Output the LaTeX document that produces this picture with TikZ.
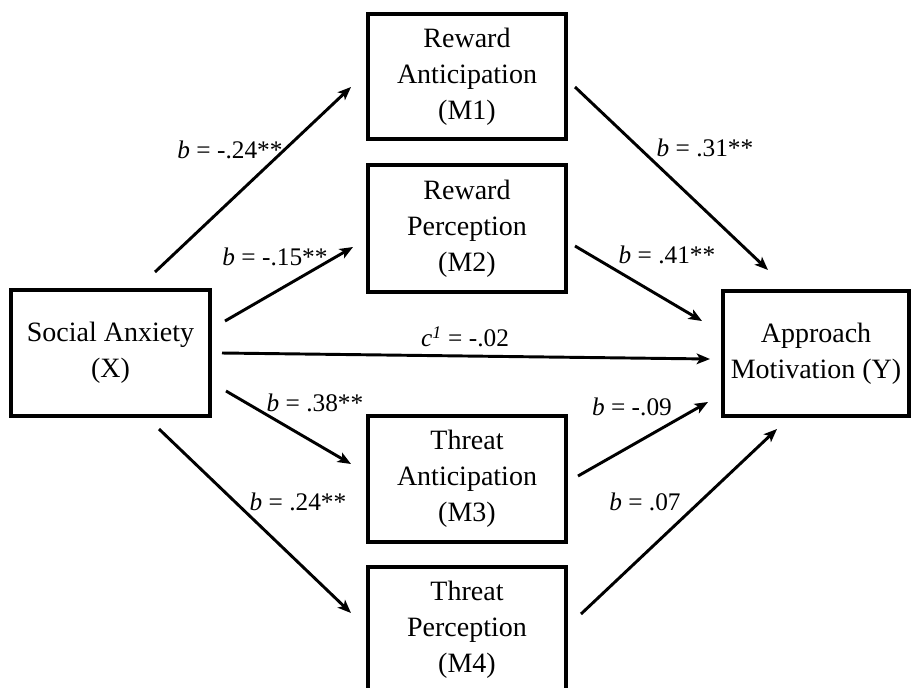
\documentclass[tikz,border=0pt]{standalone}
\usepackage{fontspec}
\setmainfont{Liberation Serif}
\usetikzlibrary{arrows.meta}
\begin{document}
\begin{tikzpicture}[x=0.75pt,y=-0.75pt,
  box/.style={draw,line width=2.4pt,rectangle,minimum width=198*0.75pt,minimum height=125*0.75pt,align=center,inner sep=0pt,font=\fontsize{21}{27}\selectfont},
  conn/.style={line width=2.2pt,-{Stealth[length=10pt,width=8pt,inset=2.5pt]}},
  lab/.style={font=\fontsize{19}{23}\selectfont,inner sep=0pt}]
\useasboundingbox (0,0) rectangle (911,687);
\node[box,minimum width=199*0.75pt,minimum height=126*0.75pt] (X) at (110.5,353) {Social Anxiety\\(X)};
\node[box] (M1) at (467,76.5) {Reward\\Anticipation\\(M1)};
\node[box,minimum height=127*0.75pt] (M2) at (467,228.5) {Reward\\Perception\\(M2)};
\node[box,minimum height=126*0.75pt] (M3) at (467,479) {Threat\\Anticipation\\(M3)};
\node[box] (M4) at (467,629.5) {Threat\\Perception\\(M4)};
\node[box,minimum width=186*0.75pt] (Y) at (816,353.5) {Approach\\Motivation (Y)};
% connector ends
\coordinate (x1) at (155,272); \coordinate (m1i) at (351,87);
\coordinate (x2) at (225,321); \coordinate (m2i) at (353,247);
\coordinate (x0) at (222,353); \coordinate (y0) at (710,359);
\coordinate (x3) at (226,391); \coordinate (m3i) at (351,464);
\coordinate (x4) at (159,429); \coordinate (m4i) at (351,613);
\coordinate (m1o) at (575,87); \coordinate (y1) at (768,270);
\coordinate (m2o) at (575,246); \coordinate (y2) at (702,321);
\coordinate (m3o) at (578,476); \coordinate (y3) at (708,402);
\coordinate (m4o) at (581,614); \coordinate (y4) at (777,429);
\draw[conn] (x1) -- (m1i);
\draw[conn] (x2) -- (m2i);
\draw[conn] (x0) -- (y0);
\draw[conn] (x3) -- (m3i);
\draw[conn] (x4) -- (m4i);
\draw[conn] (m1o) -- (y1);
\draw[conn] (m2o) -- (y2);
\draw[conn] (m3o) -- (y3);
\draw[conn] (m4o) -- (y4);
% labels
\node[lab] (l1) at (230,150) {\textit{b} = -.24**};
\node[lab] (l2) at (275,257) {\textit{b} = -.15**};
\node[lab] (l0) at (465,337) {\textit{c}\textsuperscript{\textit{1}} = -.02};
\node[lab] (l3) at (315,403) {\textit{b} = .38**};
\node[lab] (l4) at (298,502) {\textit{b} = .24**};
\node[lab] (l5) at (705,148) {\textit{b} = .31**};
\node[lab] (l6) at (667,255) {\textit{b} = .41**};
\node[lab] (l7) at (632,407) {\textit{b} = -.09};
\node[lab] (l8) at (645,502) {\textit{b} = .07};
\end{tikzpicture}
\end{document}
